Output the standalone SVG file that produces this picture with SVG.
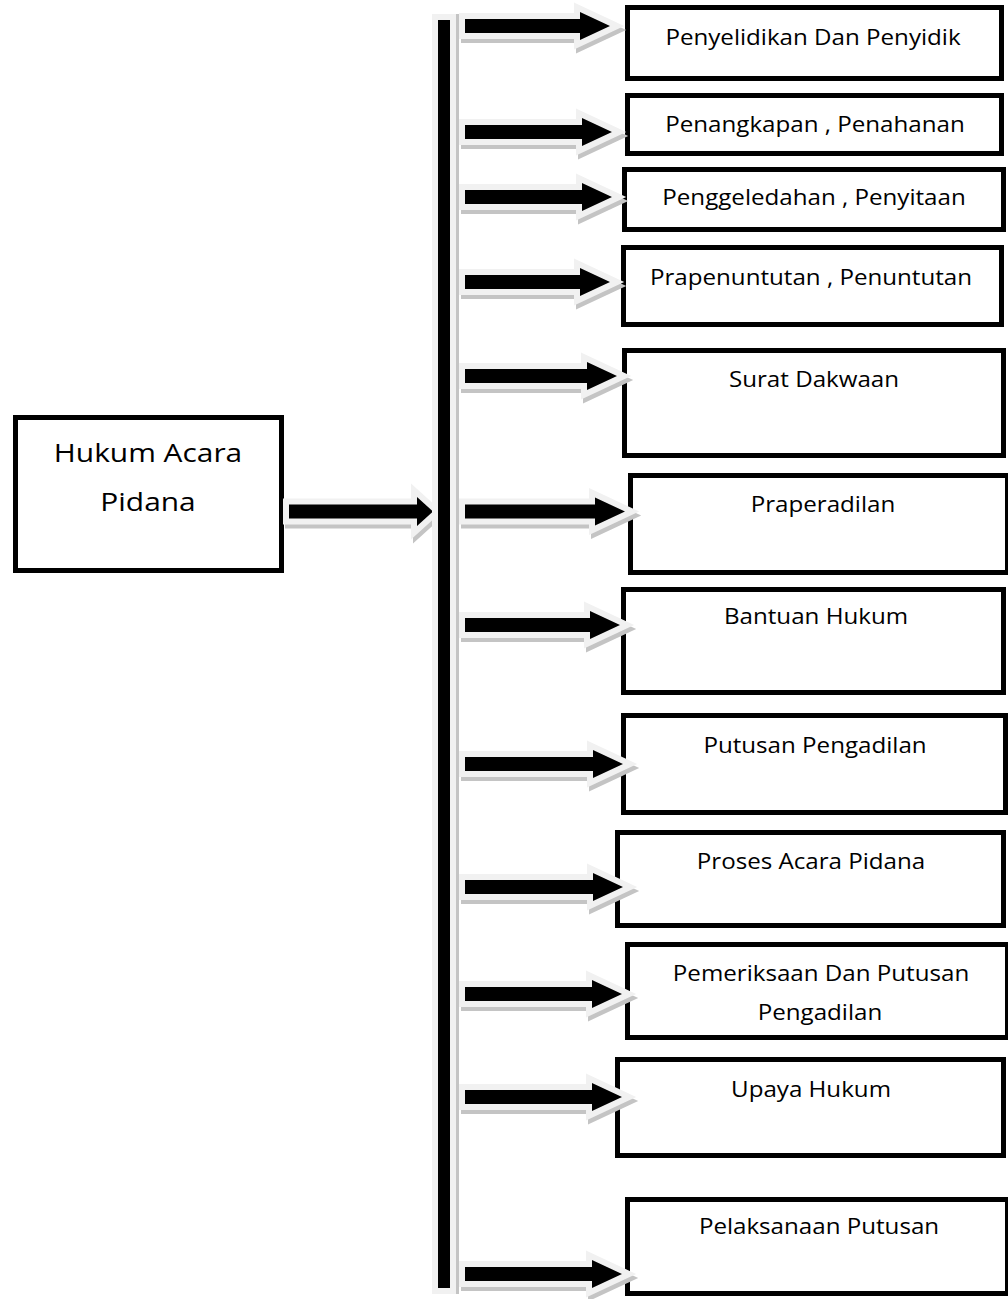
<svg xmlns="http://www.w3.org/2000/svg" width="1008" height="1299" viewBox="0 0 1008 1299">
<style>
.box{fill:#fff;stroke:#000;stroke-width:5}
.t{font-family:"Open Sans","Liberation Sans",sans-serif;font-size:21px;fill:#000;text-anchor:middle}
.tl{font-family:"Open Sans","Liberation Sans",sans-serif;font-size:26px;fill:#000;text-anchor:middle}
.sh{fill:#c4c4c4;stroke:#c4c4c4;stroke-width:12;stroke-linejoin:miter}
.ar{fill:#000;stroke:#f1f1f1;stroke-width:12;stroke-linejoin:miter;paint-order:stroke}
</style>
<rect width="1008" height="1299" fill="#fff"/>
<g id="node-main">
<rect class="box" x="15.5" y="417.5" width="266" height="153"/>
<text class="tl" transform="translate(148 462) scale(1.15 1)">Hukum Acara</text>
<text class="tl" transform="translate(148 511) scale(1.15 1)">Pidana</text>
</g>
<g id="node-1"><rect class="box" x="627.5" y="7.5" width="374" height="71"/><text class="t" transform="translate(813 45) scale(1.15 1)">Penyelidikan Dan Penyidik</text></g>
<g id="node-2"><rect class="box" x="627.5" y="95.5" width="374" height="58"/><text class="t" transform="translate(815 132) scale(1.15 1)">Penangkapan , Penahanan</text></g>
<g id="node-3"><rect class="box" x="624.5" y="169.5" width="379" height="60"/><text class="t" transform="translate(814 205) scale(1.15 1)">Penggeledahan , Penyitaan</text></g>
<g id="node-4"><rect class="box" x="623.5" y="247.5" width="378" height="77"/><text class="t" transform="translate(811 285) scale(1.15 1)">Prapenuntutan , Penuntutan</text></g>
<g id="node-5"><rect class="box" x="624.5" y="350.5" width="379" height="105"/><text class="t" transform="translate(814 387) scale(1.15 1)">Surat Dakwaan</text></g>
<g id="node-6"><rect class="box" x="630.5" y="475.5" width="377" height="97"/><text class="t" transform="translate(823 512) scale(1.15 1)">Praperadilan</text></g>
<g id="node-7"><rect class="box" x="623.5" y="589.5" width="380" height="103"/><text class="t" transform="translate(816 624) scale(1.15 1)">Bantuan Hukum</text></g>
<g id="node-8"><rect class="box" x="623.5" y="715.5" width="382" height="97"/><text class="t" transform="translate(815 753) scale(1.15 1)">Putusan Pengadilan</text></g>
<g id="node-9"><rect class="box" x="617.5" y="832.5" width="386" height="93"/><text class="t" transform="translate(811 869) scale(1.15 1)">Proses Acara Pidana</text></g>
<g id="node-10"><rect class="box" x="627.5" y="944.5" width="380" height="93"/><text class="t" transform="translate(821 981) scale(1.15 1)">Pemeriksaan Dan Putusan</text><text class="t" transform="translate(820 1020) scale(1.15 1)">Pengadilan</text></g>
<g id="node-11"><rect class="box" x="617.5" y="1059.5" width="386" height="96"/><text class="t" transform="translate(811 1097) scale(1.15 1)">Upaya Hukum</text></g>
<g id="node-12"><rect class="box" x="627.5" y="1199.5" width="380" height="94"/><text class="t" transform="translate(819 1234) scale(1.15 1)">Pelaksanaan Putusan</text></g>
<g id="connectors">
<g transform="translate(2 4)">
<path class="sh" d="M289 504.5L417 504.5L417 497L433 511.5L417 526L417 518.5L289 518.5Z"/>
</g>
<path class="ar" d="M289 504.5L417 504.5L417 497L433 511.5L417 526L417 518.5L289 518.5Z"/>
<rect x="441" y="20" width="12" height="1268" fill="#c4c4c4" stroke="#c4c4c4" stroke-width="12"/>
<rect class="ar" x="438" y="20" width="12" height="1268"/>
<g transform="translate(2 4)">
<path class="sh" d="M465 19L580 19L580 12L610 26L580 40L580 33L465 33Z"/>
<path class="sh" d="M465 125L582 125L582 118L612 132L582 146L582 139L465 139Z"/>
<path class="sh" d="M465 190L582 190L582 183L612 197L582 211L582 204L465 204Z"/>
<path class="sh" d="M465 275L580 275L580 268L610 282L580 296L580 289L465 289Z"/>
<path class="sh" d="M465 369L587 369L587 362L617 376L587 390L587 383L465 383Z"/>
<path class="sh" d="M465 504.5L595 504.5L595 497.5L625 511.5L595 525.5L595 518.5L465 518.5Z"/>
<path class="sh" d="M465 618L590 618L590 611L620 625L590 639L590 632L465 632Z"/>
<path class="sh" d="M465 757L593 757L593 750L623 764L593 778L593 771L465 771Z"/>
<path class="sh" d="M465 880L593 880L593 873L623 887L593 901L593 894L465 894Z"/>
<path class="sh" d="M465 987L592 987L592 980L622 994L592 1008L592 1001L465 1001Z"/>
<path class="sh" d="M465 1090L592 1090L592 1083L622 1097L592 1111L592 1104L465 1104Z"/>
<path class="sh" d="M465 1267L592 1267L592 1260L622 1274L592 1288L592 1281L465 1281Z"/>
</g>
<path class="ar" d="M465 19L580 19L580 12L610 26L580 40L580 33L465 33Z"/>
<path class="ar" d="M465 125L582 125L582 118L612 132L582 146L582 139L465 139Z"/>
<path class="ar" d="M465 190L582 190L582 183L612 197L582 211L582 204L465 204Z"/>
<path class="ar" d="M465 275L580 275L580 268L610 282L580 296L580 289L465 289Z"/>
<path class="ar" d="M465 369L587 369L587 362L617 376L587 390L587 383L465 383Z"/>
<path class="ar" d="M465 504.5L595 504.5L595 497.5L625 511.5L595 525.5L595 518.5L465 518.5Z"/>
<path class="ar" d="M465 618L590 618L590 611L620 625L590 639L590 632L465 632Z"/>
<path class="ar" d="M465 757L593 757L593 750L623 764L593 778L593 771L465 771Z"/>
<path class="ar" d="M465 880L593 880L593 873L623 887L593 901L593 894L465 894Z"/>
<path class="ar" d="M465 987L592 987L592 980L622 994L592 1008L592 1001L465 1001Z"/>
<path class="ar" d="M465 1090L592 1090L592 1083L622 1097L592 1111L592 1104L465 1104Z"/>
<path class="ar" d="M465 1267L592 1267L592 1260L622 1274L592 1288L592 1281L465 1281Z"/>
</g>
</svg>
